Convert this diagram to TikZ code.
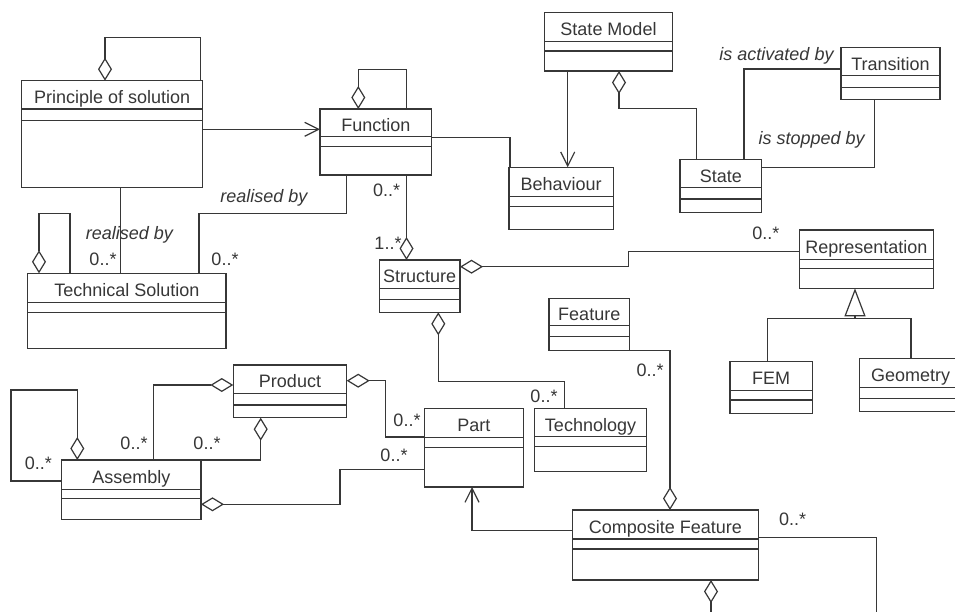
\documentclass[tikz,border=0pt]{standalone}
\usepackage{fontspec}
\setmainfont{Liberation Sans}
\usetikzlibrary{arrows.meta,fit}
\definecolor{umlink}{RGB}{55,55,55}

% class box: name, left, top, right, first rule, second rule, bottom, text
\newcommand{\umlclass}[8]{%
  \node[classbox, fit={(#2,#3) (#4,#7)}] (#1) {};
  \node[classname] (#1-name) at ({(#2+#4)/2},{(#3+#5)/2+8.5}) {#8};
  \draw (#2,#5) -- (#4,#5) (#2,#6) -- (#4,#6);
}

\begin{document}
\begin{tikzpicture}[x=1pt, y=-1pt, line width=1.2pt, color=umlink,
  classbox/.style={draw, inner sep=0pt, outer sep=0pt},
  classname/.style={anchor=base, inner sep=0pt, font=\fontsize{18}{21}\selectfont},
  mult/.style={anchor=base, inner sep=0pt, font=\fontsize{18}{21}\selectfont},
  role/.style={mult, font=\fontsize{18}{21}\selectfont\itshape},
  agg/.style={{Diamond[open,length=23pt,width=14pt]}-},
  nav/.style={-{Straight Barb[length=14pt,width=14pt]}},
  gen/.style={-{Triangle[open,length=28pt,width=21pt]}}
]
\fill[white, use as bounding box] (0,0) rectangle (955,611);
\clip (0,0) rectangle (955,611);

\umlclass{prin}{21.7}{80.7}{202.7}{109}{120.7}{187.3}{Principle of solution}
\umlclass{func}{320}{109}{431.7}{136.7}{146.7}{175}{Function}
\umlclass{beh}{509}{167.3}{613.3}{196.7}{206.7}{229.3}{Behaviour}
\umlclass{smod}{544.3}{12.3}{672.7}{41.7}{51}{71}{State Model}
\umlclass{state}{680}{159.3}{761.7}{187.7}{199}{212.3}{State}
\umlclass{trans}{841}{47.7}{940}{75.7}{87.3}{99.3}{Transition}
\umlclass{tsol}{27.7}{273.3}{226}{302.7}{312.7}{348.3}{Technical Solution}
\umlclass{struc}{379.3}{260}{460}{288.3}{299.3}{312.3}{Structure}
\umlclass{repr}{799.3}{230}{933.3}{259.3}{268.3}{288.3}{Representation}
\umlclass{fem}{730}{361.7}{812.3}{390.7}{400}{413.3}{FEM}
\umlclass{geom}{859.3}{358.3}{962}{387.3}{398.3}{411.7}{Geometry}
\umlclass{feat}{549}{298.3}{629.5}{325.7}{336.7}{350.7}{Feature}
\umlclass{tech}{534.3}{408.3}{646.7}{436.7}{446.7}{471.7}{Technology}
\umlclass{part}{424.3}{408.3}{523.3}{437.3}{447.3}{487}{Part}
\umlclass{prod}{233.3}{365}{346.7}{393.3}{405}{417.7}{Product}
\umlclass{asm}{61.7}{460}{201}{489.3}{498.3}{519.3}{Assembly}
\umlclass{cfeat}{572.3}{510}{758.3}{539}{549}{580}{Composite Feature}

% self aggregations
\draw[agg] (105,0 |- prin.north) |- (200.7,37.3) -- (200.7,0 |- prin.north);
\draw[agg] (358.3,0 |- func.north) |- (406.7,69.3) -- (406.7,0 |- func.north);
\draw[agg] (39,0 |- tsol.north) |- (70,213.3) -- (70,0 |- tsol.north);
\draw[agg] (77.3,0 |- asm.north) |- (11,390) |- (asm.west |- 0,481);
\draw[agg] (711,0 |- cfeat.south) -- (711,640) -| (876.7,537.3) -- (cfeat.east |- 0,537.3);

% function and behaviour
\draw[nav] (prin.east |- 0,129.3) -- (func.west |- 0,129.3);
\draw (func.east |- 0,137.7) -| (510,0 |- beh.north);
\draw[nav] (567.7,0 |- smod.south) -- (567.7,0 |- beh.north);
\draw[agg] (619,0 |- smod.south) |- (696.7,108.3) -- (696.7,0 |- state.north);
\draw (744,0 |- state.north) |- (trans.west |- 0,69);
\draw (874.3,0 |- trans.south) |- (state.east |- 0,167.3);

% realisation
\draw (120.7,0 |- prin.south) -- (120.7,0 |- tsol.north);
\draw (346.7,0 |- func.south) |- (199,213.3) -- (199,0 |- tsol.north);

% structure
\draw[agg] (406.5,0 |- struc.north) -- (406.5,0 |- func.south);
\draw[agg] (struc.east |- 0,266.7) -| (628.3,251.7) -- (repr.west |- 0,251.7);
\draw[agg] (438.3,0 |- struc.south) |- (564.3,381.7) -- (564.3,0 |- tech.north);

% representation
\coordinate (genjoin) at (855,318.5);
\draw (767.7,0 |- fem.north) |- (genjoin) -| (911,0 |- geom.north);
\draw[gen] (genjoin) -- (855,0 |- repr.south);

% features and product
\draw[agg] (670,0 |- cfeat.north) |- (feat.east |- 0,350.7);
\draw[nav] (cfeat.west |- 0,530.7) -| (472,0 |- part.south);
\draw[agg] (prod.east |- 0,380.7) -| (385.7,437) -- (part.west |- 0,437);
\draw[agg] (prod.west |- 0,385) -| (153.3,0 |- asm.north);
\draw[agg] (260.7,0 |- prod.south) |- (asm.north east);
\draw[agg] (asm.east |- 0,504.3) -| (340,469.3) -- (part.west |- 0,469.3);

% labels
\node[role] (l-act) at (776.5,60.3) {is activated by};
\node[role] (l-stop) at (811.7,144.3) {is stopped by};
\node[role] (l-real1) at (129.5,239.3) {realised by};
\node[role] (l-real2) at (264,202.7) {realised by};
\node[mult] (m-func) at (386.7,196.4) {0..*};
\node[mult] (m-struc) at (388,249.7) {1..*};
\node[mult] (m-tsol1) at (103,265.7) {0..*};
\node[mult] (m-tsol2) at (225,265.7) {0..*};
\node[mult] (m-repr) at (765.8,239.7) {0..*};
\node[mult] (m-tech) at (544,402.4) {0..*};
\node[mult] (m-feat) at (650,376.4) {0..*};
\node[mult] (m-part1) at (407,426.4) {0..*};
\node[mult] (m-part2) at (394,461.4) {0..*};
\node[mult] (m-asm1) at (134,449.7) {0..*};
\node[mult] (m-asm2) at (207,449.7) {0..*};
\node[mult] (m-asm3) at (38.3,469.7) {0..*};
\node[mult] (m-cfeat) at (792.5,525.7) {0..*};
\end{tikzpicture}
\end{document}
